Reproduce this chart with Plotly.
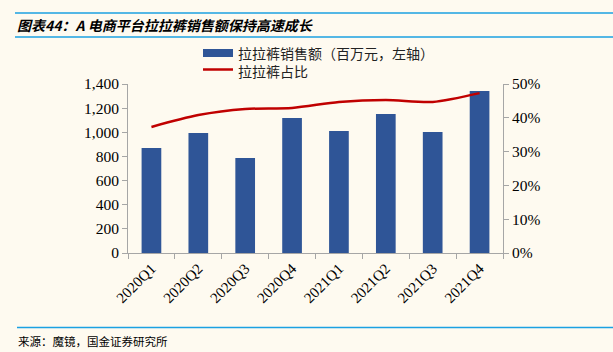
import plotly.graph_objects as go

W, H = 613, 352
quarters = ["2020Q1", "2020Q2", "2020Q3", "2020Q4", "2021Q1", "2021Q2", "2021Q3", "2021Q4"]
sales = [870, 994, 787, 1118, 1010, 1151, 1002, 1342]
share = [0.373, 0.408, 0.426, 0.429, 0.447, 0.453, 0.447, 0.473]
left_ticks = [0, 200, 400, 600, 800, 1000, 1200, 1400]
right_ticks = [0, 0.1, 0.2, 0.3, 0.4, 0.5]
legend_names = ["拉拉裤销售额（百万元，左轴）", "拉拉裤占比"]

bg = "#FEFAF0"
blue_line = "#1BA1E2"
bar_color = "#2F5597"
line_color = "#C00000"
serif = "Liberation Serif, Times New Roman, serif"
cjk = "Noto Sans CJK SC"

L, R, T, B = 128, 613 - 503, 84, 352 - 253
PW, PH = W - L - R, H - T - B


def px(x):
    return (x - L) / PW


def py(y):
    return (H - B - y) / PH


fig = go.Figure()
fig.add_trace(go.Bar(x=quarters, y=sales, name=legend_names[0],
                     marker=dict(color=bar_color, line=dict(width=0)), width=0.42,
                     showlegend=False))
fig.add_trace(go.Scatter(x=quarters, y=share, name=legend_names[1], yaxis="y2", mode="lines",
                         line=dict(color=line_color, width=2.5, shape="spline", smoothing=0.8),
                         showlegend=False))

axis_common = dict(showline=True, linecolor="#A6A6A6", linewidth=1, ticks="outside",
                   ticklen=5, tickcolor="#A6A6A6", showgrid=False, automargin=False)

fig.update_layout(
    width=W, height=H, margin=dict(l=L, r=R, t=T, b=B, autoexpand=False),
    paper_bgcolor=bg, plot_bgcolor=bg,
    showlegend=False,
    xaxis=dict(**axis_common, tickson="boundaries", tickangle=-45,
               tickfont=dict(family=serif, size=15, color="#000")),
    yaxis=dict(**axis_common, range=[0, 1400], tickvals=left_ticks, tickformat=",d",
               zeroline=False, tickfont=dict(family=serif, size=15.5, color="#000")),
    yaxis2=dict(**axis_common, overlaying="y", side="right", range=[0, 0.5],
                tickvals=right_ticks, tickformat=".0%", zeroline=False, anchor="x",
                tickfont=dict(family=serif, size=15.5, color="#000")),
    shapes=[
        dict(type="line", xref="paper", yref="paper", x0=px(15), x1=px(W), y0=py(13), y1=py(13),
             line=dict(color=blue_line, width=1.5)),
        dict(type="line", xref="paper", yref="paper", x0=px(15), x1=px(W), y0=py(37), y1=py(37),
             line=dict(color=blue_line, width=1.5)),
        dict(type="line", xref="paper", yref="paper", x0=px(17), x1=px(W), y0=py(327.5), y1=py(327.5),
             line=dict(color=blue_line, width=1.5)),
        # legend symbols
        dict(type="rect", xref="paper", yref="paper", x0=px(203), x1=px(233), y0=py(57), y1=py(49),
             fillcolor=bar_color, line=dict(width=0)),
        dict(type="line", xref="paper", yref="paper", x0=px(203), x1=px(233), y0=py(69.5), y1=py(69.5),
             line=dict(color=line_color, width=2.5)),
    ],
    annotations=[
        dict(text="<b><i>图表44：A 电商平台拉拉裤销售额保持高速成长</i></b>", xref="paper", yref="paper",
             x=px(15), y=py(25), xanchor="left", yanchor="middle", showarrow=False,
             font=dict(family=cjk, size=14, color="#000")),
        dict(text="来源：魔镜，国金证券研究所", xref="paper", yref="paper",
             x=px(16), y=py(341), xanchor="left", yanchor="middle", showarrow=False,
             font=dict(family=cjk, size=11.5, color="#000")),
        dict(text="<br>".join(legend_names), xref="paper", yref="paper", align="left",
             x=px(236), y=py(61.5), xanchor="left", yanchor="middle", showarrow=False,
             font=dict(family=cjk, size=14, color="#222")),
    ],
)

fig.write_html("out.html")
